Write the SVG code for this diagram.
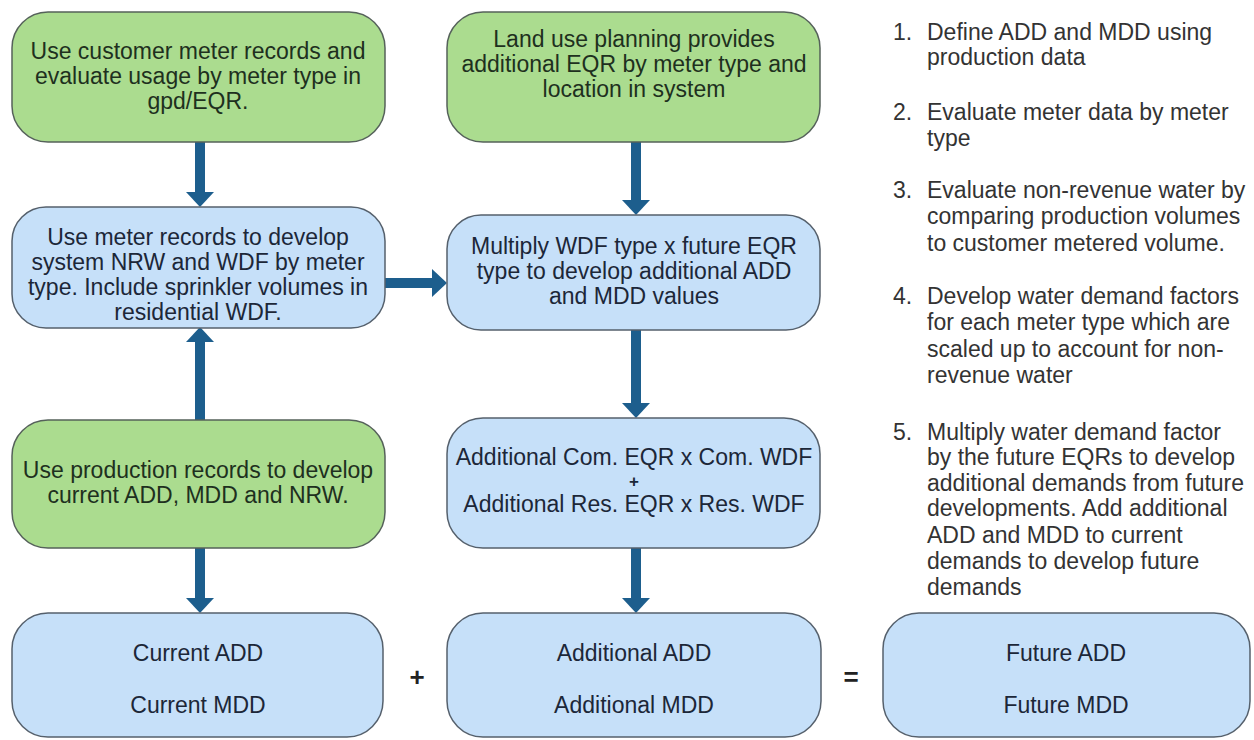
<svg xmlns="http://www.w3.org/2000/svg" width="1254" height="740" viewBox="0 0 1254 740">
<style>
.g{fill:#abdc8f;stroke:#55615a;stroke-width:1.5}
.b{fill:#c6e0f9;stroke:#55606c;stroke-width:1.5}
text{font-family:"Liberation Sans",Arial,sans-serif;font-size:23px}
.tg{fill:#1e301e;text-anchor:middle}
.tb{fill:#1c2738;text-anchor:middle}
.l{fill:#333}
.c{stroke:#1d5e8d;stroke-width:10;fill:none}
</style>
<defs>
<marker id="ah" markerUnits="userSpaceOnUse" viewBox="0 0 15 28" markerWidth="15" markerHeight="28" refX="0" refY="14" orient="auto">
<path d="M0,0 L15,14 L0,28 Z" fill="#1d5e8d"/>
</marker>
</defs>
<rect width="1254" height="740" fill="#fff"/>
<g id="connectors">
<line class="c" x1="200" y1="142" x2="200" y2="192" marker-end="url(#ah)"/>
<line class="c" x1="200" y1="420" x2="200" y2="342" marker-end="url(#ah)"/>
<line class="c" x1="200" y1="548" x2="200" y2="598" marker-end="url(#ah)"/>
<line class="c" x1="385" y1="283" x2="432" y2="283" marker-end="url(#ah)"/>
<line class="c" x1="636" y1="142" x2="636" y2="200" marker-end="url(#ah)"/>
<line class="c" x1="636" y1="330" x2="636" y2="403" marker-end="url(#ah)"/>
<line class="c" x1="636" y1="548" x2="636" y2="598" marker-end="url(#ah)"/>
</g>
<g id="n1">
<rect class="g" x="12" y="12" width="373" height="130" rx="36"/>
<text class="tg" x="198" y="59">Use customer meter records and</text>
<text class="tg" x="198" y="84">evaluate usage by meter type in</text>
<text class="tg" x="198" y="109">gpd/EQR.</text>
</g>
<g id="n2">
<rect class="b" x="12" y="207" width="373" height="121" rx="34"/>
<text class="tb" x="198" y="245">Use meter records to develop</text>
<text class="tb" x="198" y="270">system NRW and WDF by meter</text>
<text class="tb" x="198" y="295">type. Include sprinkler volumes in</text>
<text class="tb" x="198" y="320">residential WDF.</text>
</g>
<g id="n3">
<rect class="g" x="12" y="420" width="373" height="128" rx="36"/>
<text class="tg" x="198" y="478">Use production records to develop</text>
<text class="tg" x="198" y="503">current ADD, MDD and NRW.</text>
</g>
<g id="n4">
<rect class="b" x="12" y="613" width="371" height="124" rx="36"/>
<text class="tb" x="198" y="661">Current ADD</text>
<text class="tb" x="198" y="713">Current MDD</text>
</g>
<g id="n5">
<rect class="g" x="447" y="12" width="373" height="130" rx="36"/>
<text class="tg" x="634" y="47">Land use planning provides</text>
<text class="tg" x="634" y="72">additional EQR by meter type and</text>
<text class="tg" x="634" y="97">location in system</text>
</g>
<g id="n6">
<rect class="b" x="447" y="215" width="373" height="115" rx="34"/>
<text class="tb" x="634" y="254">Multiply WDF type x future EQR</text>
<text class="tb" x="634" y="279">type to develop additional ADD</text>
<text class="tb" x="634" y="304">and MDD values</text>
</g>
<g id="n7">
<rect class="b" x="447" y="418" width="373" height="130" rx="36"/>
<text class="tb" x="634" y="465">Additional Com. EQR x Com. WDF</text>
<text class="tb" x="634" y="487" style="font-size:17px;font-weight:bold">+</text>
<text class="tb" x="634" y="512">Additional Res. EQR x Res. WDF</text>
</g>
<g id="n8">
<rect class="b" x="447" y="613" width="374" height="124" rx="36"/>
<text class="tb" x="634" y="661">Additional ADD</text>
<text class="tb" x="634" y="713">Additional MDD</text>
</g>
<g id="n9">
<rect class="b" x="883" y="613" width="367" height="124" rx="36"/>
<text class="tb" x="1066" y="661">Future ADD</text>
<text class="tb" x="1066" y="713">Future MDD</text>
</g>
<g id="ops">
<text x="417" y="686" text-anchor="middle" fill="#222" style="font-size:26px;font-weight:bold">+</text>
<text x="851" y="686" text-anchor="middle" fill="#222" style="font-size:26px;font-weight:bold">=</text>
</g>
<g id="notes" class="l">
<text class="l" x="893" y="40">1.</text>
<text class="l" x="927" y="40">Define ADD and MDD using</text>
<text class="l" x="927" y="65">production data</text>
<text class="l" x="893" y="120">2.</text>
<text class="l" x="927" y="120">Evaluate meter data by meter</text>
<text class="l" x="927" y="146">type</text>
<text class="l" x="893" y="198">3.</text>
<text class="l" x="927" y="198">Evaluate non-revenue water by</text>
<text class="l" x="927" y="224">comparing production volumes</text>
<text class="l" x="927" y="251">to customer metered volume.</text>
<text class="l" x="893" y="304">4.</text>
<text class="l" x="927" y="304">Develop water demand factors</text>
<text class="l" x="927" y="330">for each meter type which are</text>
<text class="l" x="927" y="357">scaled up to account for non-</text>
<text class="l" x="927" y="383">revenue water</text>
<text class="l" x="893" y="440">5.</text>
<text class="l" x="927" y="440">Multiply water demand factor</text>
<text class="l" x="927" y="465">by the future EQRs to develop</text>
<text class="l" x="927" y="491">additional demands from future</text>
<text class="l" x="927" y="516">developments. Add additional</text>
<text class="l" x="927" y="543">ADD and MDD to current</text>
<text class="l" x="927" y="569">demands to develop future</text>
<text class="l" x="927" y="595">demands</text>
</g>
</svg>
